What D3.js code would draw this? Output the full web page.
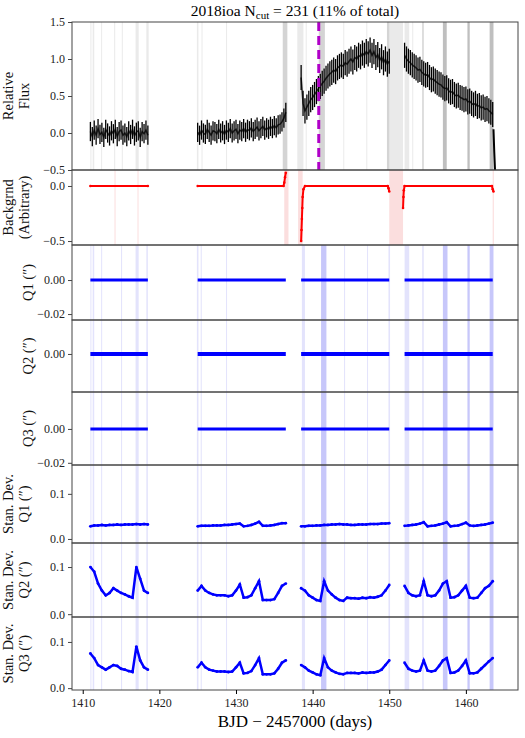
<!DOCTYPE html>
<html><head><meta charset="utf-8">
<script src="https://cdn.jsdelivr.net/npm/d3@7"></script>
<style>body{margin:0;background:#fff}svg{font-family:"Liberation Serif","DejaVu Serif",serif}</style>
</head><body><svg id="c" width="525" height="738"></svg>
<script>
// ---- data ----
const xTicks=[1410,1420,1430,1440,1450,1460];
const segStarts=[1411.0,1425.0,1438.5,1452.0];
const fluxSeg1=[0.02,-0.05,0.04,-0.03,0.06,-0.02,0.01,-0.06,0.05,0,-0.04,0.03,-0.01,0.05,-0.05,0.02,0.04,-0.03,0,-0.05,0.03,-0.02,0.05,-0.04,0.01,0.03,-0.06,0.02,-0.01,0.04,-0.03];
const fluxSeg2=[0.01,-0.03,0.04,0,-0.02,0.05,0.01,-0.03,0.03,0.02,-0.01,0.05,0,0.03,-0.02,0.04,0.01,0.06,0,0.03,0.05,-0.01,0.04,0.02,0.06,0.01,0.05,0.03,0.07,0.02,0.05,0.08,0.03,0.06,0.09,0.04,0.07,0.05,0.09,0.06,0.1,0.07,0.11,0.12,0.15,0.2,0.28];
const fluxSeg3=[0.75,0.4,0.3,0.35,0.4,0.45,0.48,0.52,0.56,0.6,0.63,0.67,0.7,0.74,0.77,0.8,0.82,0.85,0.83,0.88,0.9,0.92,0.9,0.95,0.93,0.97,1.0,0.96,1.02,1.0,1.05,1.03,1.08,1.05,1.1,1.07,1.12,1.05,1.1,1.02,1.06,0.98,1.03,0.95,1.0,0.93,0.97];
const fluxSeg4=[1.05,1.0,0.97,0.95,0.92,0.9,0.88,0.85,0.86,0.82,0.8,0.78,0.79,0.75,0.72,0.73,0.7,0.68,0.66,0.65,0.62,0.6,0.61,0.57,0.55,0.56,0.52,0.5,0.51,0.48,0.47,0.45,0.46,0.42,0.43,0.4,0.38,0.4,0.36,0.37,0.34,0.35,0.32,0.33,0.3,0.28,0.25];
const fluxErr=[0.13,0.13,0.17,0.17];
const fluxTailT=[1463.6,1463.7,1463.8];
const fluxTailV=[0.05,-0.25,-0.5];
const peakTime=1440.8;
const bgPts=[
 [[1411,0],[1418.5,0]],
 [[1425,0],[1436.2,0],[1436.3,0.03],[1436.4,0.08],[1436.5,0.12]],
 [[1438.5,-0.5],[1438.55,-0.4],[1438.6,-0.3],[1438.65,-0.2],[1438.7,-0.1],[1438.8,-0.03],[1439,0],[1449.8,0],[1449.9,-0.02],[1450,-0.05]],
 [[1451.8,-0.2],[1451.85,-0.1],[1451.9,-0.04],[1452,0],[1463.4,0],[1463.5,-0.03],[1463.6,-0.05]]];
const segEnds=[1418.5,1436.5,1450.0,1463.5];
const qValue=0;
const sd1=[[0.028,0.03,0.03,0.031,0.03,0.031,0.031,0.032,0.031,0.032,0.032,0.032,0.033,0.032,0.033,0.032],
 [0.028,0.029,0.029,0.029,0.03,0.03,0.03,0.031,0.031,0.032,0.033,0.034,0.028,0.029,0.031,0.034,0.038,0.029,0.029,0.03,0.031,0.033,0.035,0.035],
 [0.028,0.028,0.029,0.029,0.03,0.03,0.031,0.031,0.032,0.032,0.033,0.032,0.032,0.031,0.031,0.032,0.032,0.032,0.033,0.033,0.033,0.034,0.034,0.035],
 [0.029,0.03,0.031,0.032,0.034,0.037,0.028,0.029,0.03,0.032,0.034,0.037,0.028,0.029,0.03,0.033,0.036,0.03,0.029,0.03,0.031,0.032,0.034,0.036]];
const sd2=[[0.1,0.09,0.065,0.05,0.04,0.045,0.055,0.05,0.045,0.042,0.038,0.035,0.1,0.075,0.05,0.045],
 [0.05,0.06,0.05,0.045,0.042,0.04,0.04,0.04,0.038,0.04,0.05,0.063,0.035,0.036,0.04,0.055,0.07,0.03,0.03,0.03,0.032,0.045,0.06,0.065],
 [0.055,0.05,0.04,0.035,0.03,0.028,0.07,0.05,0.042,0.035,0.03,0.028,0.035,0.034,0.034,0.033,0.035,0.034,0.036,0.035,0.037,0.04,0.05,0.062],
 [0.06,0.045,0.04,0.038,0.04,0.07,0.04,0.038,0.04,0.05,0.065,0.07,0.035,0.036,0.04,0.05,0.06,0.035,0.034,0.035,0.045,0.055,0.06,0.07]];
const sd3=[[0.075,0.065,0.05,0.045,0.04,0.045,0.05,0.048,0.042,0.04,0.037,0.035,0.09,0.06,0.045,0.04],
 [0.045,0.055,0.045,0.04,0.038,0.036,0.036,0.036,0.035,0.036,0.045,0.055,0.032,0.033,0.037,0.05,0.065,0.03,0.03,0.03,0.032,0.042,0.055,0.06],
 [0.05,0.045,0.038,0.034,0.03,0.028,0.065,0.045,0.038,0.034,0.031,0.03,0.033,0.033,0.033,0.032,0.034,0.033,0.034,0.034,0.036,0.04,0.05,0.06],
 [0.055,0.042,0.038,0.036,0.038,0.06,0.038,0.036,0.038,0.048,0.06,0.065,0.033,0.034,0.038,0.048,0.06,0.032,0.032,0.034,0.042,0.05,0.058,0.065]];
const greyBands=[[1411.0,1411.1,1],[1411.3,1411.5,1],[1412.4,1412.5,1],[1414.1,1414.2,1],[1415.1,1415.2,1],[1416.9,1417.3,1],[1418.3,1418.6,1],[1424.9,1425.1,1],[1425.5,1425.6,1],[1428.7,1428.8,1],[1436.1,1436.7,2],[1438.0,1438.8,1],[1439.1,1439.2,1],[1440.8,1441.6,2],[1444.0,1444.1,1],[1447.0,1447.1,1],[1449.7,1450.0,2],[1450.0,1451.8,1],[1452.0,1452.6,1],[1453.0,1453.1,1],[1454.3,1454.5,2],[1457.0,1457.5,3],[1460.2,1460.5,3],[1463.1,1463.6,3]];
const blueBands=[[1411.0,1411.1,1],[1411.3,1411.5,1],[1412.4,1412.5,1],[1415.0,1415.1,1],[1416.9,1417.3,1],[1418.3,1418.5,1],[1424.9,1425.1,1],[1425.4,1425.5,1],[1428.7,1428.8,1],[1438.6,1439.0,1],[1441.1,1441.8,2],[1444.1,1444.2,1],[1447.1,1447.2,1],[1449.9,1450.1,1],[1452.0,1452.6,1],[1454.3,1454.5,1],[1457.0,1457.6,2],[1460.2,1460.5,2],[1463.1,1463.6,2]];
const pinkBands=[[1414.15,1414.25],[1417.15,1417.25],[1436.3,1436.85],[1438.1,1438.7],[1450.0,1451.8],[1463.5,1463.65]];

// ---- layout ----
const svg=d3.select("#c");
const L=72,R=518;
const x=d3.scaleLinear().domain([1408.6,1466.8]).range([L,R]);
const fmtM=f=>v=>d3.format(f)(v).replace("-","\u2212");
const panels=[
 {k:"flux",t:22,b:170,d:[-0.5,1.5],ticks:[-0.5,0,0.5,1,1.5],f:fmtM(".1f"),lab:["Relative","Flux"]},
 {k:"bg",t:170,b:245,d:[-0.536,0.145],ticks:[-0.5,0],f:fmtM(".1f"),lab:["Backgrnd","(Arbitrary)"]},
 {k:"q1",t:245,b:320,d:[-0.0235,0.0206],ticks:[-0.02,0],f:fmtM(".2f"),lab:["Q1 (\u2033)"]},
 {k:"q2",t:320,b:392,d:[-0.0224,0.02],ticks:[0],f:fmtM(".2f"),lab:["Q2 (\u2033)"]},
 {k:"q3",t:392,b:465,d:[-0.0213,0.0218],ticks:[-0.02,0],f:fmtM(".2f"),lab:["Q3 (\u2033)"]},
 {k:"sd1",t:465,b:543,d:[-0.009,0.164],ticks:[0,0.1],f:fmtM(".1f"),lab:["Stan. Dev.","Q1 (\u2033)"],data:sd1},
 {k:"sd2",t:543,b:617,d:[-0.006,0.151],ticks:[0,0.1],f:fmtM(".1f"),lab:["Stan. Dev.","Q2 (\u2033)"],data:sd2},
 {k:"sd3",t:617,b:690,d:[-0.004,0.154],ticks:[0,0.1],f:fmtM(".1f"),lab:["Stan. Dev.","Q3 (\u2033)"],data:sd3}];
panels.forEach((p,i)=>{
 p.y=d3.scaleLinear().domain(p.d).range([p.b,p.t]);
 const g=svg.append("g");
 svg.append("clipPath").attr("id","cp"+i).append("rect").attr("x",L).attr("y",p.t).attr("width",R-L).attr("height",p.b-p.t);
 const c=g.append("g").attr("clip-path",`url(#cp${i})`);
 p.c=c;
 if(p.k==="flux") greyBands.forEach(b=>c.append("rect").attr("x",x(b[0])).attr("width",Math.max(1,x(b[1])-x(b[0]))).attr("y",p.t).attr("height",p.b-p.t).attr("fill","#888").attr("opacity",0.18*b[2]));
 else if(p.k==="bg") pinkBands.forEach(b=>c.append("rect").attr("x",x(b[0])).attr("width",Math.max(1,x(b[1])-x(b[0]))).attr("y",p.t).attr("height",p.b-p.t).attr("fill","#f4a0a0").attr("opacity",0.35));
 else blueBands.forEach(b=>c.append("rect").attr("x",x(b[0])).attr("width",Math.max(1,x(b[1])-x(b[0]))).attr("y",p.t).attr("height",p.b-p.t).attr("fill","#5a5af0").attr("opacity",0.17*b[2]));
 const ax=g.append("g").attr("transform",`translate(${L},0)`).call(d3.axisLeft(p.y).tickValues(p.ticks).tickFormat(p.f).tickSize(4).tickPadding(3));
 ax.select(".domain").remove();
 ax.selectAll("text").attr("font-size",12).attr("fill","#222").attr("font-family","Liberation Serif");
 ax.selectAll("line").attr("stroke","#444");
 const my=(p.t+p.b)/2;
 const lt=g.append("text").attr("transform",`translate(${p.lab.length>1?21:28},${my}) rotate(-90)`).attr("text-anchor","middle").attr("font-size",14.5).attr("fill","#111");
 p.lab.forEach((s,j)=>lt.append("tspan").attr("x",0).attr("dy",j?16:(p.lab.length>1?-8:5)).text(s));
});
// flux
const pf=panels[0];
[fluxSeg1,fluxSeg2,fluxSeg3,fluxSeg4].forEach((arr,si)=>{
 const pts=arr.map((v,i)=>[segStarts[si]+i*0.25,v]);
 pf.c.selectAll(null).data(pts).enter().append("line").attr("x1",d=>x(d[0])).attr("x2",d=>x(d[0])).attr("y1",d=>pf.y(d[1]-fluxErr[si])).attr("y2",d=>pf.y(d[1]+fluxErr[si])).attr("stroke","#000").attr("stroke-width",1.3);
 pf.c.append("path").attr("d",d3.line().x(d=>x(d[0])).y(d=>pf.y(d[1]))(pts)).attr("fill","none").attr("stroke","#000").attr("stroke-width",1.5).attr("opacity",0.8);
});
pf.c.append("path").attr("d",d3.line()(fluxTailT.map((t,i)=>[x(t),pf.y(fluxTailV[i])]))).attr("stroke","#000").attr("stroke-width",2).attr("fill","none");
pf.c.append("line").attr("x1",x(peakTime)).attr("x2",x(peakTime)).attr("y1",pf.t).attr("y2",pf.b).attr("stroke","#b000c8").attr("stroke-width",3).attr("stroke-dasharray","9,5");
// background
const pb=panels[1];
bgPts.forEach(seg=>{
 pb.c.append("path").attr("d",d3.line().x(d=>x(d[0])).y(d=>pb.y(d[1]))(seg.filter(d=>d[1]>-0.01||true))).attr("fill","none").attr("stroke","red").attr("stroke-width",2).attr("stroke-dasharray",null);
 pb.c.selectAll(null).data(seg).enter().append("circle").attr("cx",d=>x(d[0])).attr("cy",d=>pb.y(d[1])).attr("r",1.3).attr("fill","red");
});
// Q panels
[2,3,4].forEach(pi=>{
 const p=panels[pi];
 segStarts.forEach((s,si)=>p.c.append("line").attr("x1",x(s)).attr("x2",x(segEnds[si])).attr("y1",p.y(qValue)).attr("y2",p.y(qValue)).attr("stroke","blue").attr("stroke-width",pi===3?4:3));
});
// SD panels
[5,6,7].forEach(pi=>{
 const p=panels[pi];
 p.data.forEach((arr,si)=>{
  const pts=arr.map((v,i)=>[segStarts[si]+i*0.5,v]);
  p.c.append("path").attr("d",d3.line().x(d=>x(d[0])).y(d=>p.y(d[1]))(pts)).attr("fill","none").attr("stroke","blue").attr("stroke-width",pi===5?2.5:2.5);
  p.c.selectAll(null).data(pts).enter().append("circle").attr("cx",d=>x(d[0])).attr("cy",d=>p.y(d[1])).attr("r",1.4).attr("fill","blue");
 });
});
panels.forEach(p=>svg.append("rect").attr("x",L).attr("y",p.t).attr("width",R-L).attr("height",p.b-p.t).attr("fill","none").attr("stroke","#444").attr("stroke-width",1));
const xa=svg.append("g").attr("transform","translate(0,690)").call(d3.axisBottom(x).tickValues(xTicks).tickFormat(d3.format("d")).tickSize(4).tickPadding(4));
xa.select(".domain").remove();
xa.selectAll("text").attr("font-size",12).attr("fill","#222").attr("font-family","Liberation Serif");
svg.append("text").attr("x",(L+R)/2).attr("y",727).attr("text-anchor","middle").attr("font-size",17).text("BJD \u2212 2457000 (days)");
const tt=svg.append("text").attr("x",(L+R)/2).attr("y",16).attr("text-anchor","middle").attr("font-size",15.5);
tt.append("tspan").text("2018ioa  N");
tt.append("tspan").attr("font-size",11).attr("dy",3).text("cut");
tt.append("tspan").attr("dy",-3).text(" = 231 (11% of total)");
</script></body></html>
